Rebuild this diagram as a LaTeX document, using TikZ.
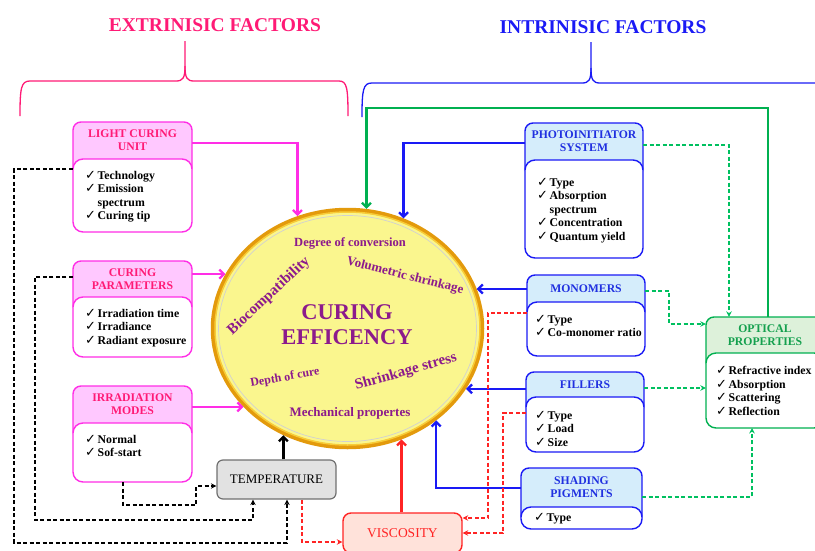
\documentclass[tikz,border=0pt]{standalone}
\usepackage{fontspec}
\setmainfont{Liberation Serif}
\newfontfamily\dejavu{DejaVu Sans}
\usetikzlibrary{arrows.meta,shapes.geometric}
\definecolor{pinkt}{HTML}{FF1A75}
\definecolor{magb}{HTML}{FF2EE6}
\definecolor{magf}{HTML}{FFC8FF}
\definecolor{blueb}{HTML}{1A1AF5}
\definecolor{bluet}{HTML}{2030E0}
\definecolor{bluef}{HTML}{D5EDFB}
\definecolor{greenb}{HTML}{00B050}
\definecolor{greent}{HTML}{14A04E}
\definecolor{greenf}{HTML}{DDF1DA}
\definecolor{greend}{HTML}{00C060}
\definecolor{redb}{HTML}{FF2424}
\definecolor{redf}{HTML}{FFE2DA}
\definecolor{tempf}{HTML}{E2E2E2}
\definecolor{tempb}{HTML}{707070}
\definecolor{purp}{HTML}{8C1A8C}
\definecolor{yel}{HTML}{FAF68E}
\definecolor{gold}{HTML}{E39A0C}
\definecolor{goldl}{HTML}{F8CC38}
\newcommand\ck{\makebox[12.5pt][l]{\dejavu\mdseries\fontsize{13}{13}\selectfont ✓}}
\newcommand\ind{\hspace*{12.5pt}}
\def\lx{12}\def\lo{12}
\newcommand\fcbox[9]{%
  \draw[#2 hdr] (#3,#5) rectangle (#4,#6+16);
  \node[#2 ttl, minimum width={(#4-#3)*1pt}, minimum height={(#6-#5)*1pt}] (#1) at ({(#3+#4)/2},{(#5+#6)/2}) {#8};
  \draw[#2 lst] (#3,#6) coordinate (#1-nw) rectangle (#4,#7) coordinate (#1-se);
  \node[itm] (#1-l) at (#3+\lx,#6+\lo) {#9};
}
\tikzset{
  ext hdr/.style={draw=magb, fill=magf, line width=1.4pt, rounded corners=8pt},
  ext lst/.style={draw=magb, fill=white, line width=1.4pt, rounded corners=10pt},
  ext ttl/.style={text=pinkt, font=\bfseries\fontsize{11.7}{13}\selectfont, align=center, inner sep=0pt},
  int hdr/.style={draw=blueb, fill=bluef, line width=1.4pt, rounded corners=8pt},
  int lst/.style={draw=blueb, fill=white, line width=1.4pt, rounded corners=10pt},
  int ttl/.style={text=bluet, font=\bfseries\fontsize{11.7}{13}\selectfont, align=center, inner sep=0pt},
  opt hdr/.style={draw=greenb, fill=greenf, line width=1.4pt, rounded corners=8pt},
  opt lst/.style={draw=greenb, fill=white, line width=1.4pt, rounded corners=10pt},
  opt ttl/.style={text=greent, font=\bfseries\fontsize{11.7}{13}\selectfont, align=center, inner sep=0pt},
  itm/.style={font=\bfseries\fontsize{11.8}{13.5}\selectfont, align=left, inner sep=0pt, anchor=north west},
  solidarr/.style={line width=2.3pt, -{Straight Barb[length=4.5pt,width=9pt]}},
  dasharr/.style={line width=1.5pt, dash pattern=on 4pt off 2.5pt, -{Stealth[length=5.5pt,width=5.5pt]}},
  bdash/.style={dasharr, black},
  rdash/.style={dasharr, redb},
  gdash/.style={dasharr, greend},
  etxt/.style={text=purp, inner sep=0pt},
  bigtitle/.style={font=\bfseries\fontsize{19.5}{19.5}\selectfont, inner sep=0pt}
}
\begin{document}
\begin{tikzpicture}[x=1pt,y=-1pt]
\useasboundingbox (0,0) rectangle (815,550);
\clip (0,0) rectangle (815,550);

% titles and braces
\node[bigtitle, text=pinkt] (extt) at (215,25) {EXTRINISIC FACTORS};
\node[bigtitle, text=blueb] (intt) at (603,27) {INTRINISIC FACTORS};
\draw[pinkt, line width=1.3pt] (20,116) .. controls (20,88) and (21,81) .. (30,81) -- (176,81) .. controls (183,81) and (185,78) .. (185,66) -- (185,41);
\draw[pinkt, line width=1.3pt] (185,66) .. controls (185,78) and (187,81) .. (194,81) -- (339,81) .. controls (347,81) and (348,88) .. (348,116);
\draw[blueb, line width=1.3pt] (362,117) .. controls (362,90) and (363,83) .. (372,83) -- (582,83) .. controls (589,83) and (591,80) .. (591,68) -- (591,42);
\draw[blueb, line width=1.3pt] (591,68) .. controls (591,80) and (593,83) .. (600,83) -- (830,83);

% central ellipse
\node[ellipse, draw=gold, line width=4.5pt, fill=yel, minimum width=269pt, minimum height=237pt, inner sep=0pt] (ce) at (347.5,328.5) {};
\draw[goldl, line width=1.5pt] (ce.center) ellipse [x radius=132.5pt, y radius=116.5pt];
\draw[black!18, line width=0.7pt] (ce.center) ellipse [x radius=129pt, y radius=113pt];
\node[etxt, font=\bfseries\fontsize{12.5}{12.5}\selectfont] (t1) at (350,243) {Degree of conversion};
\node[etxt, font=\bfseries\fontsize{13}{13}\selectfont, rotate=-14] (t2) at (405,276) {Volumetric shrinkage};
\node[etxt, font=\bfseries\fontsize{15}{15}\selectfont, rotate=43] (t3) at (269,296) {Biocompatibility};
\node[etxt, font=\bfseries\fontsize{22.5}{25}\selectfont, align=center] (t4) at (347,324.5) {CURING\\EFFICENCY};
\node[etxt, font=\bfseries\fontsize{12}{12}\selectfont, rotate=10] (t5) at (285,378) {Depth of cure};
\node[etxt, font=\bfseries\fontsize{15}{15}\selectfont, rotate=16] (t6) at (406,372) {Shrinkage stress};
\node[etxt, font=\bfseries\fontsize{13}{13}\selectfont] (t7) at (350,413) {Mechanical propertes};

% factor boxes
\def\lx{12}\def\lo{12}
\fcbox{lcu}{ext}{73}{192}{122}{159}{232}{LIGHT CURING\\UNIT}{\ck Technology\\\ck Emission\\\ind spectrum\\\ck Curing tip}
\fcbox{cp}{ext}{73}{192}{261}{297}{357}{CURING\\PARAMETERS}{\ck Irradiation time\\\ck Irradiance\\\ck Radiant exposure}
\fcbox{im}{ext}{73}{192}{386}{423}{482}{IRRADIATION\\MODES}{\ck Normal\\\ck Sof-start}
\def\lo{18}
\fcbox{pis}{int}{525}{643}{123}{160}{258}{PHOTOINITIATOR\\SYSTEM}{\ck Type\\\ck Absorption\\\ind spectrum\\\ck Concentration\\\ck Quantum yield}
\def\lx{8}\def\lo{13}
\fcbox{mono}{int}{527}{645}{275}{302}{356}{MONOMERS}{\ck Type\\\ck Co-monomer ratio}
\def\lx{9}\def\lo{14}
\fcbox{fil}{int}{526}{644}{372}{397}{452}{FILLERS}{\ck Type\\\ck Load\\\ck Size}
\def\lx{13}\def\lo{6}
\fcbox{shad}{int}{521}{642}{468}{507}{529}{SHADING\\PIGMENTS}{\ck Type}
\def\lx{10}\def\lo{13}
\fcbox{opt}{opt}{706}{824}{317}{353}{428}{OPTICAL\\PROPERTIES}{\ck Refractive index\\\ck Absorption\\\ck Scattering\\\ck Reflection}

\node[draw=tempb, fill=tempf, rounded corners=6pt, line width=1.2pt, minimum width=119pt, minimum height=39pt, font=\fontsize{13}{13}\selectfont] (temp) at (276.5,479.5) {TEMPERATURE};
\node[draw=redb, fill=redf, rounded corners=8pt, line width=1.4pt, minimum width=119pt, minimum height=40pt, text=redb, font=\fontsize{13.5}{13.5}\selectfont] (visc) at (402.5,533) {VISCOSITY};

% magenta connectors
\draw[solidarr, magb] (lcu.east |- 0,143) -| (ce.114);
\draw[solidarr, magb] (cp.east |- ce.156) -- (ce.156);
\draw[solidarr, magb] (im.east |- ce.217) -- (ce.217);

% black connectors
\draw[solidarr, black] (temp.north -| ce.239) -- (ce.239);
\draw[bdash] (lcu.west |- 0,169) -- (14,169) -- (14,543) -- (287,543) -- (temp.south -| 287,0);
\draw[bdash] (cp.west |- 0,277) -- (35,277) -- (35,520) -- (253,520) -- (temp.south -| 253,0);
\draw[bdash] (im-se -| 123,0) -- (123,505) -- (196,505) -- (196,486) -- (temp.west |- 0,486);

% blue connectors
\draw[solidarr, blueb] (pis.west |- 0,143) -| (ce.63);
\draw[solidarr, blueb] (mono.west |- ce.17) -- (ce.17);
\draw[solidarr, blueb] (fil.west |- ce.333) -- (ce.333);
\draw[solidarr, blueb] (shad.west |- 0,488) -| (ce.314);

% red connectors
\draw[rdash] (temp.south -| 302,0) -- (302,542) -- (visc.west |- 0,542);
\draw[solidarr, redb] (visc.north -| ce.296) -- (ce.296);
\draw[rdash] (mono-nw |- 0,313) -- (488,313) -- (488,518) -- (visc.east |- 0,518);
\draw[rdash] (fil-nw |- 0,413) -- (503,413) -- (503,533) -- (visc.east |- 0,533);

% green connectors
\draw[solidarr, greenb] (opt.north -| 768,0) -- (768,108) -| (ce.81);
\draw[gdash] (pis.east |- 0,145) -| (opt.north -| 729,0);
\draw[gdash] (mono.east |- 0,291) -- (669,291) -- (669,324) -- (opt.west |- 0,324);
\draw[gdash] (fil.east |- 0,388) -- (opt.west |- 0,388);
\draw[gdash] (shad.east |- 0,497) -| (opt-se -| 752,0);
\end{tikzpicture}
\end{document}
